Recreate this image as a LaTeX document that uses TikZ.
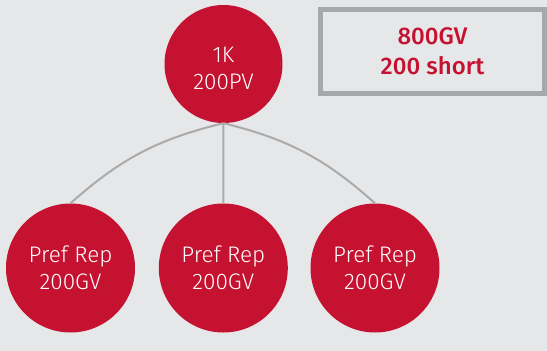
\documentclass[tikz,border=0pt]{standalone}
\usepackage{fontspec}
\setmainfont{Fira Sans Light}
\newfontfamily\medfont{Fira Sans Medium}
\definecolor{bgc}{HTML}{E6E7E9}
\definecolor{redc}{HTML}{C41230}
\definecolor{linec}{HTML}{AAAAAA}
\definecolor{boxc}{HTML}{A7A8AB}
\tikzset{
  topcirc/.style={circle, fill=redc, minimum size=118pt, inner sep=0pt, text=white, align=center, font=\fontsize{22.5}{27}\selectfont},
  childcirc/.style={circle, fill=redc, minimum size=129pt, inner sep=0pt, text=white, align=center, font=\fontsize{22.5}{27}\selectfont},
  conn/.style={draw=linec, line width=2pt},
  infobox/.style={draw=boxc, line width=5pt, fill=bgc, minimum width=224pt, minimum height=84pt, inner sep=0pt, text=redc, align=center, font=\medfont\fontsize{24}{30}\selectfont}
}
\begin{document}
\begin{tikzpicture}[x=1pt,y=-1pt]
\fill[bgc] (0,0) rectangle (547,351);
\useasboundingbox (0,0) rectangle (547,351);
\node[topcirc] (top) at (223.5,64) {};
\node[text=white, align=center, font=\fontsize{22.5}{27}\selectfont] (toplbl) at (223.5,68) {1K\\200PV};
\node[childcirc] (c1) at (70.5,268) {Pref Rep\\200GV};
\node[childcirc] (c2) at (223.3,268) {Pref Rep\\200GV};
\node[childcirc] (c3) at (375,268) {Pref Rep\\200GV};
\node[infobox] (box) at (432.5,51.5) {800GV\\200 short};
\draw[conn] (top.south) to[bend right=14] (c1.north);
\draw[conn] (top.south) -- (c2.north);
\draw[conn] (top.south) to[bend left=14] (c3.north);
\end{tikzpicture}
\end{document}
